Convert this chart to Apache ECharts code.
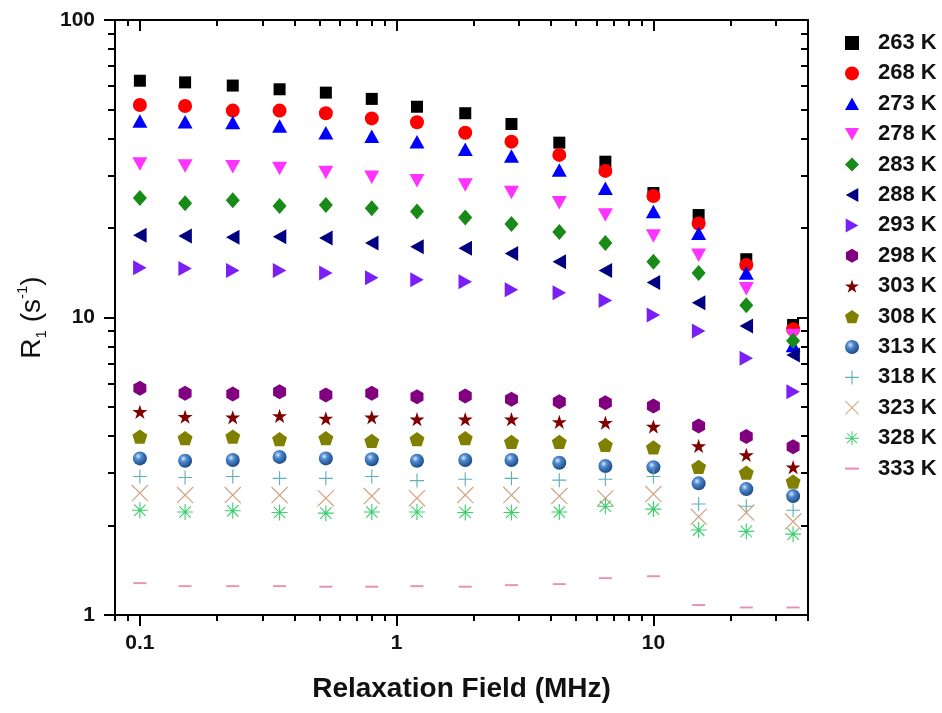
<!DOCTYPE html>
<html>
<head>
<meta charset="utf-8">
<script src="https://cdn.jsdelivr.net/npm/echarts@6/dist/echarts.min.js"></script>
<style>
html,body{margin:0;padding:0;background:#fff;}
#chart{width:942px;height:713px;}
</style>
</head>
<body>
<div id="chart"></div>
<script>
// Relaxation field (MHz)
const fields = [0.1, 0.15, 0.23, 0.35, 0.53, 0.8, 1.2, 1.85, 2.8, 4.3, 6.5, 10, 15, 23, 35];
const temps = ['263 K','268 K','273 K','278 K','283 K','288 K','293 K','298 K','303 K','308 K','313 K','318 K','323 K','328 K','333 K'];
const r263 = [62.5, 61.7, 60.2, 58.5, 57.0, 54.3, 51.1, 48.6, 44.7, 38.7, 33.4, 26.2, 22.1, 15.7, 9.44];
const r268 = [51.8, 51.4, 49.6, 49.6, 48.6, 46.7, 45.3, 41.8, 39.0, 35.2, 31.1, 25.6, 20.7, 15.0, 9.13];
const r273 = [45.8, 45.5, 45.2, 44.0, 41.8, 40.7, 39.0, 36.8, 34.9, 31.3, 27.2, 22.7, 19.2, 14.1, 8.05];
const r278 = [32.8, 32.3, 32.1, 31.7, 30.7, 29.6, 28.8, 27.9, 26.3, 24.3, 22.1, 18.8, 16.2, 12.5, 8.7];
const r283 = [25.2, 24.2, 24.8, 23.7, 23.9, 23.3, 22.7, 21.7, 20.6, 19.4, 17.8, 15.4, 14.1, 11.0, 8.36];
const r288 = [18.9, 18.8, 18.6, 18.7, 18.5, 17.8, 17.3, 17.1, 16.4, 15.4, 14.4, 13.1, 11.2, 9.36, 7.48];
const r293 = [14.7, 14.6, 14.4, 14.4, 14.1, 13.6, 13.4, 13.2, 12.4, 12.1, 11.4, 10.2, 9.01, 7.29, 5.63];
const r298 = [5.78, 5.56, 5.53, 5.63, 5.49, 5.56, 5.42, 5.45, 5.31, 5.21, 5.17, 5.04, 4.32, 3.98, 3.68];
const r303 = [4.82, 4.64, 4.62, 4.67, 4.58, 4.62, 4.55, 4.55, 4.55, 4.46, 4.43, 4.30, 3.70, 3.45, 3.14];
const r308 = [3.98, 3.93, 3.98, 3.90, 3.93, 3.85, 3.90, 3.93, 3.82, 3.82, 3.73, 3.66, 3.15, 3.01, 2.81];
const r313 = [3.36, 3.30, 3.32, 3.40, 3.36, 3.34, 3.30, 3.32, 3.32, 3.25, 3.17, 3.14, 2.77, 2.65, 2.51];
const r318 = [2.92, 2.90, 2.92, 2.88, 2.88, 2.92, 2.83, 2.86, 2.88, 2.84, 2.86, 2.92, 2.36, 2.32, 2.25];
const r323 = [2.57, 2.53, 2.53, 2.53, 2.47, 2.51, 2.47, 2.53, 2.53, 2.51, 2.47, 2.55, 2.14, 2.21, 2.06];
const r328 = [2.25, 2.22, 2.24, 2.21, 2.20, 2.22, 2.22, 2.21, 2.21, 2.22, 2.32, 2.27, 1.93, 1.91, 1.87];
const r333 = [1.28, 1.25, 1.25, 1.25, 1.245, 1.245, 1.25, 1.245, 1.26, 1.27, 1.33, 1.35, 1.08, 1.06, 1.06];

const xMajorTicks = [0.1, 1, 10];
const xMinorTicks = [0.08, 0.09, 0.2, 0.3, 0.4, 0.5, 0.6, 0.7, 0.8, 0.9, 2, 3, 4, 5, 6, 7, 8, 9, 20, 30, 40];
const yMajorTicks = [1, 10, 100];
const yMinorTicks = [2, 3, 4, 5, 6, 7, 8, 9, 20, 30, 40, 50, 60, 70, 80, 90];

const values = [r263, r268, r273, r278, r283, r288, r293, r298, r303, r308, r313, r318, r323, r328, r333];

const sphere = {type:'radial', x:0.38, y:0.35, r:0.65, colorStops:[
  {offset:0, color:'#dbe9ff'}, {offset:0.35, color:'#4f8bd0'}, {offset:1, color:'#1d4a86'}]};

const styles = [
  {symbol:'rect', size:12, color:'#000000'},
  {symbol:'circle', size:14, color:'#ff0000'},
  {symbol:'path://M5,0L10,9L0,9Z', size:15, color:'#0000ff'},
  {symbol:'path://M0,0L10,0L5,9Z', size:15, color:'#ff33ff'},
  {symbol:'diamond', size:[14,16], color:'#178a17'},
  {symbol:'path://M0,5L9,0L9,10Z', size:15, color:'#000080'},
  {symbol:'path://M9,5L0,0L0,10Z', size:15, color:'#7a1ff5'},
  {symbol:'path://M5,0L9.33,2.5L9.33,7.5L5,10L0.67,7.5L0.67,2.5Z', size:15, color:'#800080'},
  {symbol:'path://M5,0L6.18,3.62L10,3.62L6.9,5.86L8.09,9.5L5,7.25L1.91,9.5L3.1,5.86L0,3.62L3.82,3.62Z', size:15, color:'#800000'},
  {symbol:'path://M5,0L10,3.63L8.09,9.5L1.91,9.5L0,3.63Z', size:15, color:'#808000'},
  {symbol:'circle', size:14, color:sphere},
  {symbol:'path://M0,4.6H10V5.4H0Z M4.6,0H5.4V4.6H4.6Z M4.6,5.4H5.4V10H4.6Z', size:14, color:'#5fb0b8'},
  {symbol:'path://M0,0.5L0.5,0L10,9.5L9.5,10Z M9.5,0L10,0.5L0.5,10L0,9.5Z', size:17, color:'#d2a382'},
  {symbol:'path://M0,4.65H10V5.35H0Z M4.65,0H5.35V10H4.65Z M1.2,1.7L1.7,1.2L8.8,8.3L8.3,8.8Z M8.3,1.2L8.8,1.7L1.7,8.8L1.2,8.3Z', size:16, color:'#3ccf6e'},
  {symbol:'path://M0,0H10V1.5H0Z', size:13, color:'#e592b6'}
];

const FONT = 'Liberation Sans, Arial, sans-serif';

const series = temps.map((t, i) => ({
  name: t,
  type: 'scatter',
  xAxisIndex: 0,
  yAxisIndex: 0,
  symbol: styles[i].symbol,
  symbolSize: styles[i].size,
  symbolKeepAspect: true,
  itemStyle: {color: styles[i].color, opacity: 1},
  emphasis: {disabled: true},
  data: fields.map((f, j) => [f, values[i][j]])
}));

function xAx(pos, ticks, len, inside, withLine, withLabel) {
  return {
    type: 'log', logBase: 10, min: 0.08, max: 40, position: pos,
    axisLine: {show: withLine, onZero: false, lineStyle: {color: '#000', width: 2}},
    axisTick: {show: true, customValues: ticks, length: len, inside: inside, lineStyle: {color: '#000', width: 2}},
    minorTick: {show: false},
    splitLine: {show: false},
    axisLabel: withLabel ? {show: true, customValues: xMajorTicks, margin: 18, color: '#111',
      fontFamily: FONT, fontWeight: 'bold', fontSize: 21, formatter: v => String(v)} : {show: false},
    name: withLabel ? 'Relaxation Field (MHz)' : '',
    nameLocation: 'middle', nameGap: 60,
    nameTextStyle: {fontFamily: FONT, fontWeight: 'bold', fontSize: 28, color: '#111'}
  };
}
function yAx(pos, ticks, len, inside, withLine, withLabel) {
  return {
    type: 'log', logBase: 10, min: 1, max: 100, position: pos,
    axisLine: {show: withLine, onZero: false, lineStyle: {color: '#000', width: 2}},
    axisTick: {show: true, customValues: ticks, length: len, inside: inside, lineStyle: {color: '#000', width: 2}},
    minorTick: {show: false},
    splitLine: {show: false},
    axisLabel: withLabel ? {show: true, customValues: yMajorTicks, margin: 20, color: '#111',
      fontFamily: FONT, fontWeight: 'bold', fontSize: 21, formatter: v => String(v)} : {show: false},
    name: withLabel ? '{a|R}{b|1}{a| (s}{c|-1}{a|)}' : '',
    nameLocation: 'middle', nameGap: 62, nameRotate: 90,
    nameTextStyle: {fontFamily: FONT, fontSize: 28, color: '#111',
      rich: {
        a: {fontFamily: FONT, fontSize: 28, color: '#111', lineHeight: 34, verticalAlign: 'middle'},
        b: {fontFamily: FONT, fontSize: 15, color: '#111', verticalAlign: 'bottom', lineHeight: 34, padding: [0, 0, 0, 0]},
        c: {fontFamily: FONT, fontSize: 15, color: '#111', verticalAlign: 'top', lineHeight: 34}
      }}
  };
}

const option = {
  backgroundColor: '#ffffff',
  animation: false,
  grid: {left: 115, right: 134, top: 20, bottom: 98, containLabel: false},
  xAxis: [
    xAx('bottom', xMajorTicks, 11, false, true, true),
    xAx('bottom', xMinorTicks, 6, false, false, false),
    xAx('top', xMajorTicks, 11, true, true, false),
    xAx('top', xMinorTicks, 6, true, false, false)
  ],
  yAxis: [
    yAx('left', yMajorTicks, 11, false, true, true),
    yAx('left', yMinorTicks, 7, false, false, false),
    yAx('right', yMajorTicks, 11, true, true, false),
    yAx('right', yMinorTicks, 7, true, false, false)
  ],
  legend: {
    orient: 'vertical', left: 840, top: 27,
    itemWidth: 14, itemHeight: 14, itemGap: 8.4,
    symbolKeepAspect: true,
    selectedMode: false,
    textStyle: {fontFamily: FONT, fontWeight: 'bold', fontSize: 22, color: '#111', lineHeight: 20, padding: [0, 0, 0, 14]},
    data: temps
  },
  series: series
};

const chart = echarts.init(document.getElementById('chart'), null, {renderer: 'canvas'});
chart.setOption(option);
</script>
</body>
</html>
